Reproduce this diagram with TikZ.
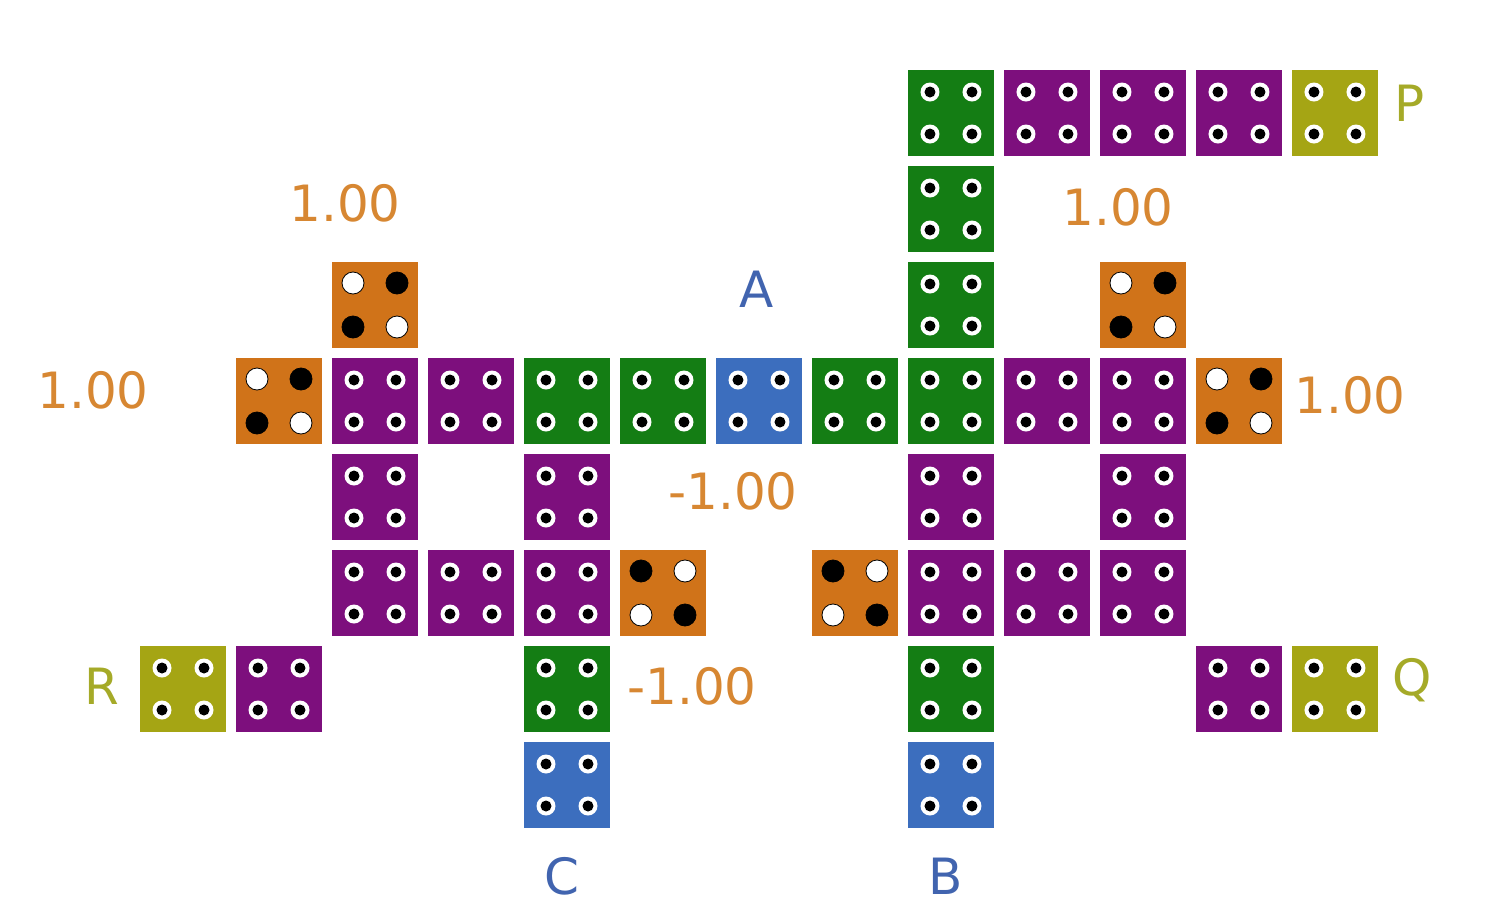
\documentclass[tikz,border=0pt]{standalone}
\usepackage{fontspec}
\setmainfont{DejaVu Sans}
\usetikzlibrary{positioning,matrix}

\definecolor{brickgreen}{RGB}{20,125,20}
\definecolor{brickpurple}{RGB}{125,15,125}
\definecolor{brickblue}{RGB}{60,110,190}
\definecolor{brickolive}{RGB}{165,165,20}
\definecolor{brickorange}{RGB}{208,115,25}
\definecolor{textorange}{RGB}{215,135,50}
\definecolor{textolive}{RGB}{165,170,40}
\definecolor{textblue}{RGB}{65,100,175}

\begin{document}
\begin{tikzpicture}[x=1pt,y=-1pt,
  studs/.style={
    path picture={
      \foreach \dx/\dy in {-21/21,21/21,-21/-21,21/-21}{
        \fill[white] ([xshift=\dx pt,yshift=\dy pt]path picture bounding box.center) circle (9.5pt);
        \fill[black] ([xshift=\dx pt,yshift=\dy pt]path picture bounding box.center) circle (5.5pt);
      }
    }
  },
  greenblock/.style={fill=brickgreen,studs},
  purpleblock/.style={fill=brickpurple,studs},
  blueblock/.style={fill=brickblue,studs},
  oliveblock/.style={fill=brickolive,studs},
  % orange blocks: white/black studs on the diagonals
  orangeup/.style={
    fill=brickorange,
    path picture={
      \foreach \dx/\dy/\c in {-22/22/white,22/22/black,-22/-22/black,22/-22/white}{
        \filldraw[fill=\c,draw=black,line width=0.8pt] ([xshift=\dx pt,yshift=\dy pt]path picture bounding box.center) circle (11pt);
      }
    }
  },
  orangedown/.style={
    fill=brickorange,
    path picture={
      \foreach \dx/\dy/\c in {-22/22/black,22/22/white,-22/-22/white,22/-22/black}{
        \filldraw[fill=\c,draw=black,line width=0.8pt] ([xshift=\dx pt,yshift=\dy pt]path picture bounding box.center) circle (11pt);
      }
    }
  },
  weight/.style={text=textorange,font=\fontsize{50}{60}\selectfont,inner sep=0pt},
  corner/.style={text=textolive,font=\fontsize{50}{60}\selectfont,inner sep=0pt},
  port/.style={text=textblue,font=\fontsize{50}{60}\selectfont,inner sep=0pt}
  ]
  \useasboundingbox (0,0) rectangle (1500,920);
  \matrix (table) [%
    matrix of nodes,
    nodes in empty cells,
    nodes={rectangle,minimum size=86pt,inner sep=0pt},
    row sep=10pt,column sep=10pt
    ] at (759,449) {
  & & & & & & & & |[greenblock]| & |[purpleblock]| & |[purpleblock]| & |[purpleblock]| & |[oliveblock]| \\
  & & & & & & & & |[greenblock]| & & & & \\
  & & |[orangeup]| & & & & & & |[greenblock]| & & |[orangeup]| & & \\
  & |[orangeup]| & |[purpleblock]| & |[purpleblock]| & |[greenblock]| & |[greenblock]| & |[blueblock]| & |[greenblock]| & |[greenblock]| & |[purpleblock]| & |[purpleblock]| & |[orangeup]| & \\
  & & |[purpleblock]| & & |[purpleblock]| & & & & |[purpleblock]| & & |[purpleblock]| & & \\
  & & |[purpleblock]| & |[purpleblock]| & |[purpleblock]| & |[orangedown]| & & |[orangedown]| & |[purpleblock]| & |[purpleblock]| & |[purpleblock]| & & \\
  |[oliveblock]| & |[purpleblock]| & & & |[greenblock]| & & & & |[greenblock]| & & & |[purpleblock]| & |[oliveblock]| \\
  & & & & |[blueblock]| & & & & |[blueblock]| & & & & \\
 };
  % weights
  \node [weight] (w1) at (345,203) {1.00};
  \node [weight] (w2) at (1118,207) {1.00};
  \node [weight] (w3) at (93,390) {1.00};
  \node [weight] (w4) at (1350,395) {1.00};
  \node [weight] (w5) at (733,491) {-1.00};
  \node [weight] (w6) at (692,686) {-1.00};
  % corners
  \node [corner] (P) at (1410,103) {P};
  \node [corner] (Q) at (1412,680) {Q};
  \node [corner] (R) at (102,686) {R};
  % ports
  \node [port] (A) at (757,289) {A};
  \node [port] (B) at (946,876) {B};
  \node [port] (C) at (562,876) {C};
\end{tikzpicture}
\end{document}
